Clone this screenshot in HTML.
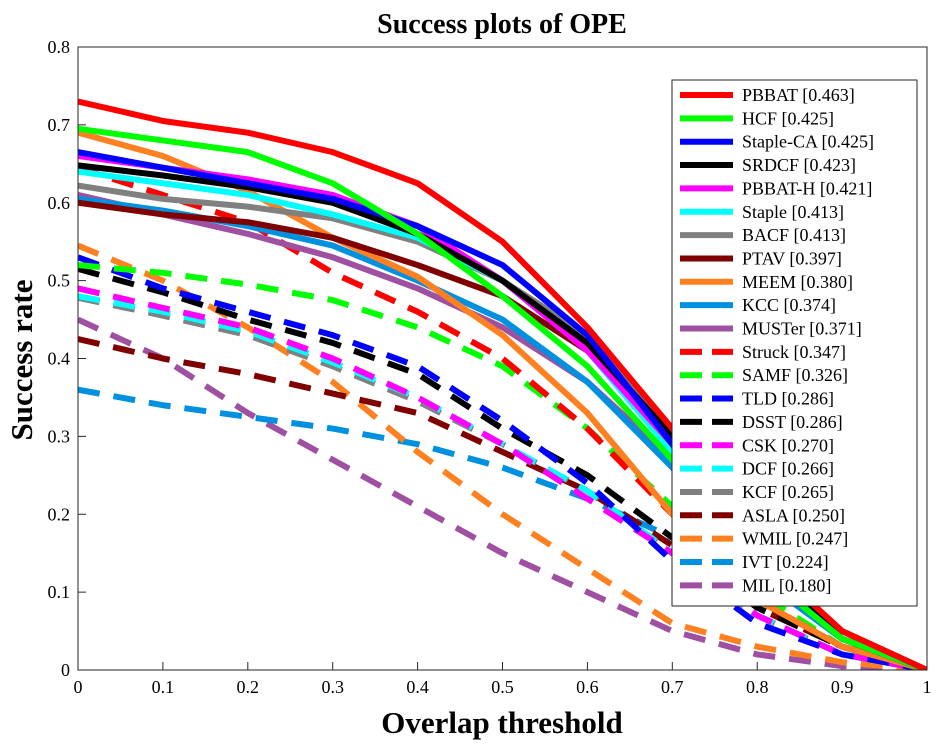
<!DOCTYPE html>
<html><head><meta charset="utf-8"><style>
body{margin:0;background:#fff;}
svg{display:block;font-family:"Liberation Serif",serif;}
</style></head><body>
<svg id="chart" width="940" height="745">
<rect width="940" height="745" fill="#fff"/>
<text x="502" y="33" font-size="28" font-weight="bold" text-anchor="middle">Success plots of OPE</text>
<text x="502" y="733" font-size="31" font-weight="bold" text-anchor="middle">Overlap threshold</text>
<text transform="translate(32,360) rotate(-90)" font-size="31" font-weight="bold" text-anchor="middle">Success rate</text>
<g id="ticks"></g>
<defs><clipPath id="pc"><rect x="78" y="47" width="849" height="623"/></clipPath></defs>
<g id="lines" clip-path="url(#pc)"></g>
<rect x="78" y="47" width="849" height="623" fill="none" stroke="#262626" stroke-width="1"/>
<g id="legend"></g>
</svg>
<script>
const xs=[0,0.1,0.2,0.3,0.4,0.5,0.6,0.7,0.8,0.9,1];
const names=["PBBAT [0.463]","HCF [0.425]","Staple-CA [0.425]","SRDCF [0.423]","PBBAT-H [0.421]","Staple [0.413]","BACF [0.413]","PTAV [0.397]","MEEM [0.380]","KCC [0.374]","MUSTer [0.371]","Struck [0.347]","SAMF [0.326]","TLD [0.286]","DSST [0.286]","CSK [0.270]","DCF [0.266]","KCF [0.265]","ASLA [0.250]","WMIL [0.247]","IVT [0.224]","MIL [0.180]"];
const colors=["#ff0000","#00ff00","#0000ff","#000000","#ff00ff","#00ffff","#808080","#800000","#ff8020","#0090e0","#a050a0","#ff0000","#00ff00","#0000ff","#000000","#ff00ff","#00ffff","#808080","#800000","#ff8020","#0090e0","#a050a0"];
const series=[
[0.73,0.705,0.69,0.665,0.625,0.55,0.44,0.31,0.15,0.05,0],
[0.695,0.68,0.665,0.625,0.56,0.48,0.39,0.27,0.13,0.04,0],
[0.665,0.645,0.625,0.605,0.57,0.52,0.43,0.29,0.13,0.04,0],
[0.648,0.635,0.62,0.6,0.56,0.5,0.42,0.3,0.14,0.04,0],
[0.66,0.645,0.63,0.61,0.57,0.5,0.41,0.29,0.13,0.04,0],
[0.64,0.625,0.61,0.585,0.555,0.5,0.41,0.28,0.13,0.04,0],
[0.622,0.605,0.595,0.58,0.55,0.5,0.43,0.31,0.15,0.05,0],
[0.6,0.585,0.575,0.555,0.52,0.48,0.41,0.3,0.14,0.04,0],
[0.69,0.66,0.615,0.555,0.505,0.43,0.33,0.2,0.09,0.03,0],
[0.605,0.59,0.57,0.545,0.5,0.45,0.37,0.26,0.12,0.04,0],
[0.61,0.585,0.56,0.53,0.49,0.44,0.37,0.27,0.14,0.05,0],
[0.645,0.61,0.575,0.51,0.46,0.4,0.31,0.2,0.09,0.03,0],
[0.52,0.51,0.495,0.475,0.44,0.39,0.31,0.21,0.1,0.03,0],
[0.53,0.49,0.46,0.43,0.39,0.32,0.24,0.14,0.06,0.02,0],
[0.515,0.485,0.45,0.42,0.38,0.31,0.25,0.17,0.08,0.03,0],
[0.49,0.465,0.44,0.4,0.35,0.29,0.22,0.15,0.07,0.02,0],
[0.48,0.46,0.435,0.395,0.35,0.29,0.23,0.15,0.07,0.02,0],
[0.478,0.455,0.43,0.39,0.345,0.29,0.23,0.15,0.07,0.02,0],
[0.425,0.4,0.38,0.355,0.33,0.28,0.23,0.16,0.08,0.03,0],
[0.545,0.5,0.44,0.37,0.28,0.2,0.13,0.06,0.03,0.01,0],
[0.36,0.34,0.325,0.31,0.29,0.26,0.22,0.17,0.09,0.03,0],
[0.45,0.4,0.33,0.27,0.21,0.15,0.1,0.05,0.02,0.005,0]];
const xTicks=["0","0.1","0.2","0.3","0.4","0.5","0.6","0.7","0.8","0.9","1"];
const yTicks=["0","0.1","0.2","0.3","0.4","0.5","0.6","0.7","0.8"];
const NS="http://www.w3.org/2000/svg";
const X=v=>78+v*849, Y=v=>670-v/0.8*623;
function mk(t,a,p){const e=document.createElementNS(NS,t);for(const k in a)e.setAttribute(k,a[k]);p.appendChild(e);return e;}
const tk=document.getElementById('ticks');
xTicks.forEach((t,i)=>{const v=i/10;
 const l=mk('line',{x1:X(v),x2:X(v),y1:670,y2:662,stroke:'#262626'},tk);
 
 
 const e=mk('text',{x:X(v),y:693,'font-size':18,'text-anchor':'middle'},tk);e.textContent=t;
 
 });
yTicks.forEach((t,i)=>{const v=i/10;
 const l=mk('line',{x1:78,x2:86,y1:Y(v),y2:Y(v),stroke:'#262626'},tk);
 
 
 const e=mk('text',{x:70,y:Y(v)+6,'font-size':18,'text-anchor':'end'},tk);e.textContent=t;
 
 });
const lg=document.getElementById('lines');
for(let s=series.length-1;s>=0;s--){
 const pts=series[s].map((v,i)=>X(xs[i])+','+Y(v)).join(' ');
 const a={points:pts,fill:'none',stroke:colors[s],'stroke-width':6,'stroke-linejoin':'round'};
 if(s>=11)a['stroke-dasharray']='22 14';
 const p=mk('polyline',a,lg);
 
 }
const leg=document.getElementById('legend');
const box=mk('rect',{x:672,y:80,width:245,height:526,fill:'#fff',stroke:'#262626'},leg);


names.forEach((n,i)=>{const y=95+i*23.35;
 const a={x1:680,x2:733,y1:y,y2:y,stroke:colors[i],'stroke-width':6};
 if(i>=11)a['stroke-dasharray']='22 10';
 const l=mk('line',a,leg);
 
 
 const t=mk('text',{x:742,y:y+6,'font-size':18},leg);t.textContent=n;
 
 });
</script>
</body></html>
